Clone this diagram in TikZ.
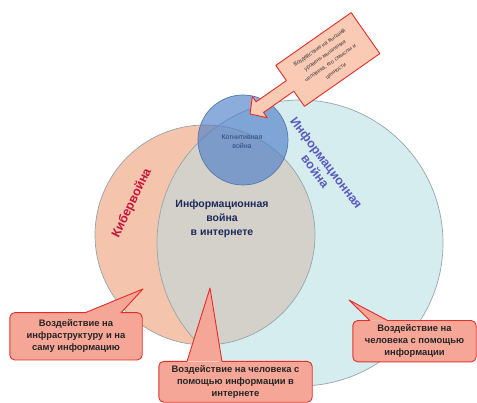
\documentclass[tikz,border=0pt]{standalone}
\usepackage{fontspec}
\setmainfont{Liberation Sans}
\usetikzlibrary{calc}
\definecolor{orangefill}{RGB}{244,196,172}
\definecolor{bluefill}{RGB}{214,237,240}
\definecolor{grayfill}{RGB}{211,209,201}
\definecolor{cognfill}{RGB}{79,127,200}
\definecolor{cognline}{RGB}{85,120,175}
\definecolor{circline}{RGB}{150,165,170}
\definecolor{callfill}{RGB}{245,166,150}
\definecolor{callline}{RGB}{228,45,40}
\definecolor{arrowfill}{RGB}{250,202,180}
\definecolor{cyberred}{RGB}{200,20,60}
\definecolor{infoblue}{RGB}{90,90,190}
\definecolor{navytext}{RGB}{30,42,90}
\definecolor{cogntext}{RGB}{40,70,130}
\newcommand\mycallout[4]{%
  \fill[callfill] (#2) -- (#3) -- (#4) -- cycle;
  \draw[calloutline] (#3) -- (#2) -- (#4);
  \begin{scope}[even odd rule]
    \clip (-5,-5) rectangle (482,408)
      ($(#2)!1.15!(#3)$) -- (#2) -- ($(#2)!1.15!(#4)$) -- cycle;
    \draw[calloutline, rounded corners=5pt] (#1.north west) rectangle (#1.south east);
  \end{scope}}
\begin{document}
\begin{tikzpicture}[x=1pt,y=-1pt,
  calloutbox/.style={fill=callfill, rounded corners=5pt, align=center,
    text=black!85, inner sep=0pt, font=\fontsize{9.4}{12}\selectfont\bfseries},
  calloutline/.style={draw=callline, line width=0.9pt, line join=round},
  circleline/.style={draw=circline, line width=0.7pt},
]
\useasboundingbox (0,0) rectangle (477,403);

% circles
\coordinate (oc) at (205,235);
\coordinate (bc) at (300,243);
\coordinate (cc) at (243,140);
\fill[orangefill] (oc) circle[radius=110];
\fill[bluefill] (bc) circle[radius=143];
\begin{scope}
  \clip (oc) circle[radius=110];
  \fill[grayfill] (bc) circle[radius=143];
\end{scope}
\draw[circleline] (oc) circle[radius=110];
\draw[circleline] (bc) circle[radius=143];
\fill[cognfill, opacity=0.65] (cc) circle[radius=45];
\draw[cognline, line width=0.7pt] (cc) circle[radius=45];

% labels
\node[rotate=64, text=cyberred, font=\fontsize{12.5}{15}\selectfont\bfseries] (cyber) at (132,203) {Кибервойна};
\node[rotate=-53, text=infoblue, align=center, font=\fontsize{12.5}{14}\selectfont\bfseries] (info) at (321,167) {Информационная\\война};
\node[text=navytext, align=center, font=\fontsize{10.5}{14}\selectfont\bfseries] (inet) at (222,219) {Информационная\\война\\в интернете};
\node[text=cogntext, align=center, font=\fontsize{7}{9}\selectfont] (cogn) at (242,142) {Когнитивная\\война};

% callouts
\node[calloutbox, minimum width=132, minimum height=47] (box1) at (76,336.3)
  {Воздействие на\\инфраструктуру и на\\саму информацию};
\coordinate (t1) at (143,289);
\coordinate (b1a) at (85,312.8);
\coordinate (b1b) at (121,312.8);
\mycallout{box1}{t1}{b1a}{b1b}

\node[calloutbox, minimum width=153, minimum height=40.5] (box2) at (235.5,381.8)
  {Воздействие на человека с\\помощью информации в\\интернете};
\coordinate (t2) at (210,288);
\coordinate (b2a) at (187,361.5);
\coordinate (b2b) at (222,361.5);
\mycallout{box2}{t2}{b2a}{b2b}

\node[calloutbox, minimum width=123, minimum height=41] (box3) at (414.5,341.2)
  {Воздействие на\\человека с помощью\\информации};
\coordinate (t3) at (349,300);
\coordinate (b3a) at (370,320.7);
\coordinate (b3b) at (388,320.7);
\mycallout{box3}{t3}{b3a}{b3b}

% top arrow callout
\begin{scope}[shift={(250,114)}, rotate=35]
  \coordinate (atip) at (0,0);
  \filldraw[fill=arrowfill, calloutline] (atip) -- (12,-13) -- (12,-6.5) -- (49,-6.5) -- (49,-25) -- (141,-25)
    -- (141,25) -- (49,25) -- (49,6.5) -- (12,6.5) -- (12,13) -- cycle;
  \node[rotate=35, align=center, text=black!80, font=\fontsize{5.5}{9.5}\selectfont] (arrowtext) at (95,0)
    {Воздействие на высший\\уровень мышления\\человека, его смыслы и\\ценности};
\end{scope}
\end{tikzpicture}
\end{document}
